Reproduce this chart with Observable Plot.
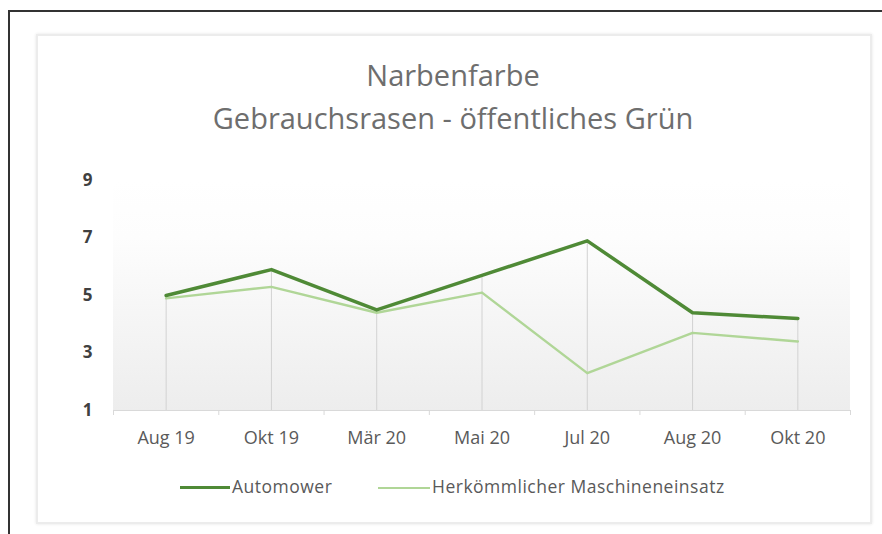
<!DOCTYPE html>
<html>
<head>
<meta charset="utf-8">
<script src="https://cdn.jsdelivr.net/npm/d3@7"></script>
<script src="https://cdn.jsdelivr.net/npm/@observablehq/plot@0.6"></script>
<style>
  html, body { margin: 0; padding: 0; background: #fff; width: 882px; height: 534px; overflow: hidden; }
  #frame { position: absolute; left: 8px; top: 10px; width: 900px; height: 600px;
           border-top: 2px solid #333; border-left: 2px solid #333; }
  #panel { position: absolute; left: 36px; top: 34px; width: 832px; height: 486px;
           border: 2px solid #ececec; box-shadow: 0 0 3px #e4e4e4; background: #fff; }
  #title { position: absolute; left: 0; top: 53px; width: 906px; text-align: center;
           font-family: "Open Sans", sans-serif; font-size: 29px; line-height: 43px; color: #6e6e6e; }
  #chart { position: absolute; left: 0; top: 150px; }
  #legend { position: absolute; top: 475px; left: 0; width: 882px; height: 24px;
            font-family: "Open Sans", sans-serif; font-size: 17.5px; letter-spacing: 0.5px; color: #595959; }
  .sw { position: absolute; top: 11px; height: 3px; }
  .lt { position: absolute; top: -1px; white-space: nowrap; }
</style>
</head>
<body>
<div id="frame"></div>
<div id="panel"></div>
<div id="title">Narbenfarbe<br>Gebrauchsrasen - öffentliches Grün</div>
<div id="chart"></div>
<div id="legend">
  <div class="sw" style="left:180px;width:50px;background:#4f8a36;"></div>
  <div class="lt" style="left:232px;">Automower</div>
  <div class="sw" style="left:378px;width:52px;height:2px;top:12px;background:#b0d697;"></div>
  <div class="lt" style="left:432px;">Herkömmlicher Maschineneinsatz</div>
</div>
<script>
const labels = ["Aug 19", "Okt 19", "Mär 20", "Mai 20", "Jul 20", "Aug 20", "Okt 20"];
const automower = [5.0, 5.9, 4.5, 5.7, 6.9, 4.4, 4.2];
const herkoemmlich = [4.9, 5.3, 4.4, 5.1, 2.3, 3.7, 3.4];
const yTicks = [1, 3, 5, 7, 9];

const idx = labels.map((_, i) => i);
const rowsA = idx.map(i => ({i, v: automower[i]}));
const rowsH = idx.map(i => ({i, v: herkoemmlich[i]}));
const drops = idx.map(i => ({i, top: Math.max(automower[i], herkoemmlich[i])}));
const bounds = d3.range(-0.5, labels.length, 1);

const plot = Plot.plot({
  width: 882,
  height: 310,
  marginLeft: 113,
  marginRight: 32,
  marginTop: 30,
  marginBottom: 50,
  style: {fontFamily: "Open Sans, sans-serif", background: "transparent"},
  x: {type: "linear", domain: [-0.5, labels.length - 0.5], label: null},
  y: {domain: [1, 9], label: null},
  marks: [
    Plot.rect([{}], {x1: -0.5, x2: labels.length - 0.5, y1: 1, y2: 9, fill: "url(#bg)"}),
    Plot.ruleX(drops, {x: "i", y1: 1, y2: "top", stroke: "#d2d2d2", strokeWidth: 1}),
    Plot.ruleY([1], {stroke: "#d9d9d9", strokeWidth: 1}),
    Plot.axisX(bounds, {tickSize: 5, tickFormat: () => "", stroke: "#d9d9d9", label: null}),
    Plot.axisX(idx, {tickSize: 0, tickPadding: 21, tickFormat: i => labels[i], label: null,
                     fontSize: 18, fill: "#5a5a5a", style: {letterSpacing: "1px"}}),
    Plot.axisY(yTicks, {tickSize: 0, tickPadding: 21, fontSize: 17, fontWeight: "bold",
                        fill: "#404040", label: null}),
    Plot.line(rowsH, {x: "i", y: "v", stroke: "#b0d697", strokeWidth: 2.5}),
    Plot.line(rowsA, {x: "i", y: "v", stroke: "#4f8a36", strokeWidth: 3.5})
  ]
});

const svg = d3.select(plot);
const defs = svg.insert("defs", ":first-child");
const g = defs.append("linearGradient").attr("id", "bg").attr("x1", 0).attr("x2", 0).attr("y1", 0).attr("y2", 1);
g.append("stop").attr("offset", "0%").attr("stop-color", "#ffffff");
g.append("stop").attr("offset", "25%").attr("stop-color", "#fdfdfd");
g.append("stop").attr("offset", "100%").attr("stop-color", "#ededed");

document.getElementById("chart").appendChild(plot);
</script>
</body>
</html>
